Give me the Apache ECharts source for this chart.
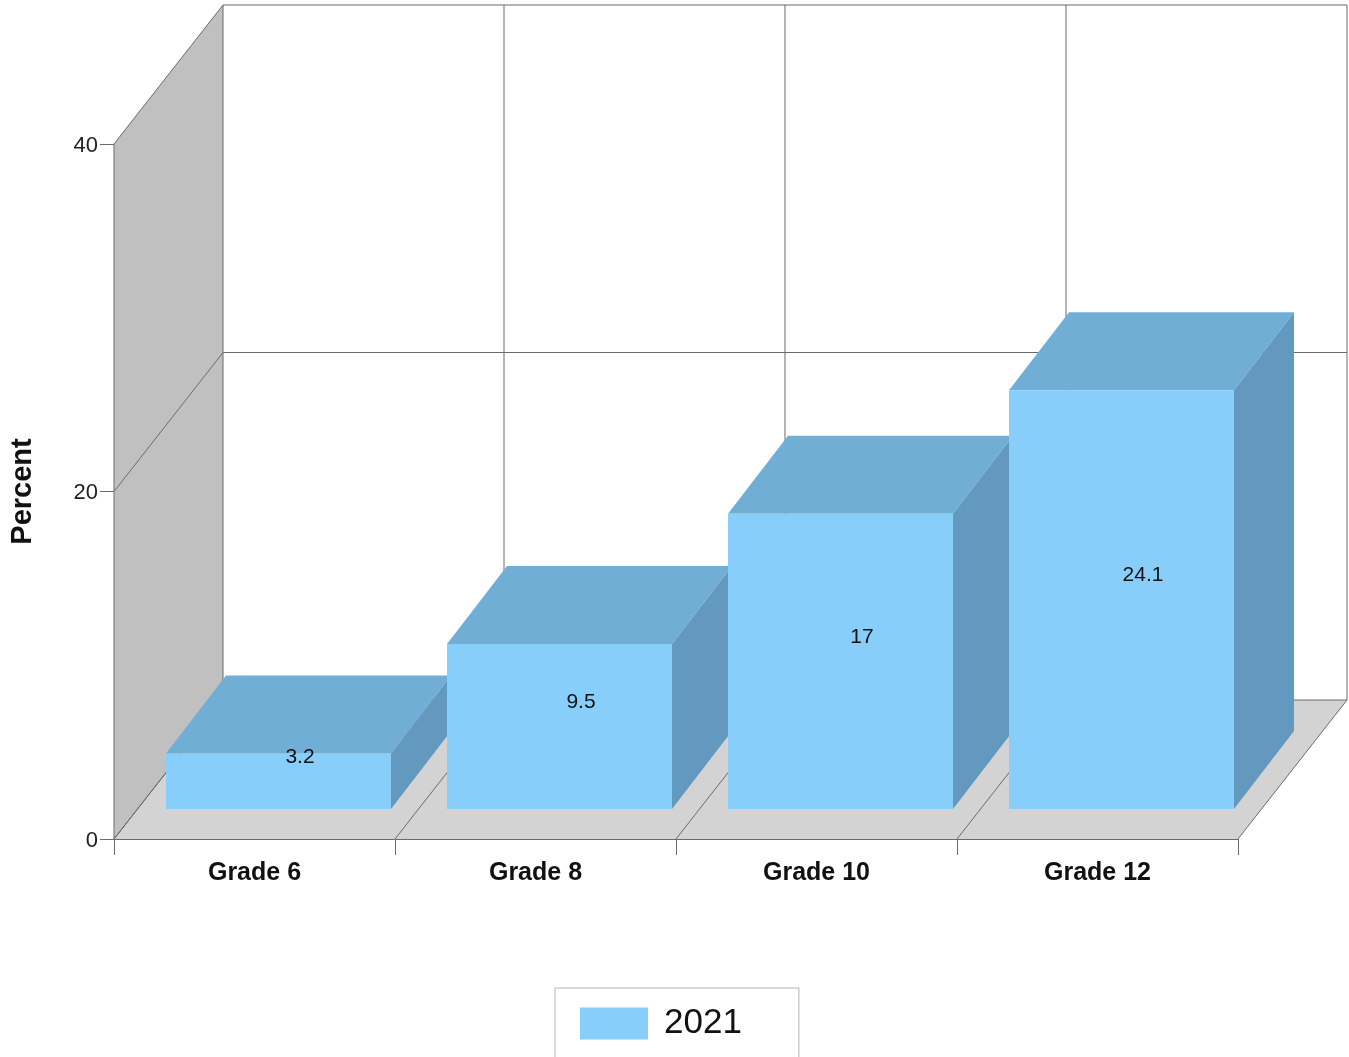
<!DOCTYPE html>
<html>
<head>
<meta charset="utf-8">
<style>html,body{margin:0;padding:0;background:#fff;overflow:hidden}#c{width:1349px;height:1057px}</style>
<script src="https://cdn.jsdelivr.net/npm/echarts@6/dist/echarts.min.js"></script>
</head>
<body>
<div id="c"></div>
<script>
var categories = ['Grade 6', 'Grade 8', 'Grade 10', 'Grade 12'];
var values2021 = [3.2, 9.5, 17, 24.1];
var yTicks = [0, 20, 40];
var seriesName = '2021';

var DEPTH_X = 109, DEPTH_Y = 139;
var BAR_IN_X = 24, BAR_IN_Y = 30, BAR_DX = 60, BAR_DY = 78, BAR_W = 225;
var LABEL_DX = 45.5, LABEL_DY = 54;
var LINE = '#6b6b6b';

function poly(points, fill) {
  return {type: 'polygon', shape: {points: points}, style: {fill: fill, stroke: null}};
}
function seg(x1, y1, x2, y2) {
  return {type: 'line', shape: {x1: x1, y1: y1, x2: x2, y2: y2}, style: {stroke: LINE, lineWidth: 1, fill: null}};
}

function renderWalls(params, api) {
  var band = api.size([1, 0])[0];
  var o = api.coord([0, 0]);
  var left = o[0] - band / 2;
  var n = categories.length;
  var right = left + band * n;
  var y0 = api.coord([0, yTicks[0]])[1];
  var yTop = api.coord([0, yTicks[yTicks.length - 1]])[1];
  var kids = [
    poly([[left + DEPTH_X, y0 - DEPTH_Y], [right + DEPTH_X, y0 - DEPTH_Y], [right + DEPTH_X, yTop - DEPTH_Y], [left + DEPTH_X, yTop - DEPTH_Y]], '#ffffff'),
    poly([[left, y0], [left + DEPTH_X, y0 - DEPTH_Y], [left + DEPTH_X, yTop - DEPTH_Y], [left, yTop]], '#c0c0c0'),
    poly([[left, y0], [right, y0], [right + DEPTH_X, y0 - DEPTH_Y], [left + DEPTH_X, y0 - DEPTH_Y]], '#d3d3d3')
  ];
  yTicks.forEach(function (t) {
    var y = api.coord([0, t])[1];
    kids.push(seg(left, y, left + DEPTH_X, y - DEPTH_Y));
    kids.push(seg(left + DEPTH_X, y - DEPTH_Y, right + DEPTH_X, y - DEPTH_Y));
  });
  for (var i = 0; i <= n; i++) {
    var x = left + band * i;
    kids.push(seg(x, y0, x + DEPTH_X, y0 - DEPTH_Y));
    kids.push(seg(x + DEPTH_X, y0 - DEPTH_Y, x + DEPTH_X, yTop - DEPTH_Y));
  }
  kids.push(seg(left, y0, left, yTop));
  return {type: 'group', children: kids};
}

function renderBar(params, api) {
  var c = api.coord([api.value(0), 0]);
  var t = api.coord([api.value(0), api.value(1)]);
  var m = api.coord([api.value(0), api.value(1) / 2]);
  var x0 = c[0] - BAR_W / 2 + BAR_IN_X;
  var x1 = x0 + BAR_W;
  var yb = c[1] - BAR_IN_Y;
  var yt = t[1] - BAR_IN_Y;
  return {type: 'group', children: [
    poly([[x0, yt], [x1, yt], [x1 + BAR_DX, yt - BAR_DY], [x0 + BAR_DX, yt - BAR_DY]], '#70aed6'),
    poly([[x1, yt], [x1 + BAR_DX, yt - BAR_DY], [x1 + BAR_DX, yb - BAR_DY], [x1, yb]], '#6399bf'),
    poly([[x0, yb], [x1, yb], [x1, yt], [x0, yt]], '#87cefa'),
    {type: 'text', z2: 10, style: {
      x: c[0] + LABEL_DX, y: m[1] - LABEL_DY,
      text: String(api.value(1)), align: 'center', verticalAlign: 'middle',
      font: '21px "Liberation Sans", Arial, sans-serif', fill: '#111'
    }}
  ]};
}

var chart = echarts.init(document.getElementById('c'), null, {renderer: 'canvas'});
chart.setOption({
  animation: false,
  backgroundColor: '#fff',
  textStyle: {fontFamily: '"Liberation Sans", Arial, sans-serif'},
  grid: {left: 114, top: 144, width: 1124, height: 695, outerBoundsMode: 'none', containLabel: false},
  legend: {
    left: 555, top: 988,
    data: [{name: seriesName, icon: 'rect'}],
    itemWidth: 68, itemHeight: 32,
    padding: [18, 57, 40, 25],
    borderColor: '#b5b5b5', borderWidth: 1,
    selectedMode: false,
    textStyle: {fontSize: 35, color: '#111', padding: [2, 0, 0, 11]}
  },
  xAxis: {
    type: 'category', data: categories,
    axisLine: {show: true, onZero: false, lineStyle: {color: LINE}},
    axisTick: {show: true, length: 16, lineStyle: {color: LINE}},
    axisLabel: {fontSize: 25, fontWeight: 'bold', color: '#111', margin: 22},
    splitLine: {show: false}
  },
  yAxis: {
    type: 'value', min: 0, max: 40, interval: 20,
    name: 'Percent', nameLocation: 'middle', nameGap: 77, nameRotate: 90,
    nameTextStyle: {fontSize: 29, fontWeight: 'bold', color: '#111'},
    axisLine: {show: false},
    axisTick: {show: true, length: 14, lineStyle: {color: LINE}},
    axisLabel: {
      color: '#222', margin: 16,
      formatter: '{t|{value}}',
      rich: {t: {fontSize: 22, color: '#222', padding: [3, 0, 0, 0]}}
    },
    splitLine: {show: false}
  },
  series: [
    {type: 'custom', name: 'walls', z: 1, silent: true, data: [[0, 0]], encode: {x: 0, y: 1}, renderItem: renderWalls},
    {type: 'custom', name: seriesName, z: 3, itemStyle: {color: '#87cefa'},
     data: values2021.map(function (v, i) { return [i, v]; }), encode: {x: 0, y: 1}, renderItem: renderBar}
  ]
});
</script>
</body>
</html>
